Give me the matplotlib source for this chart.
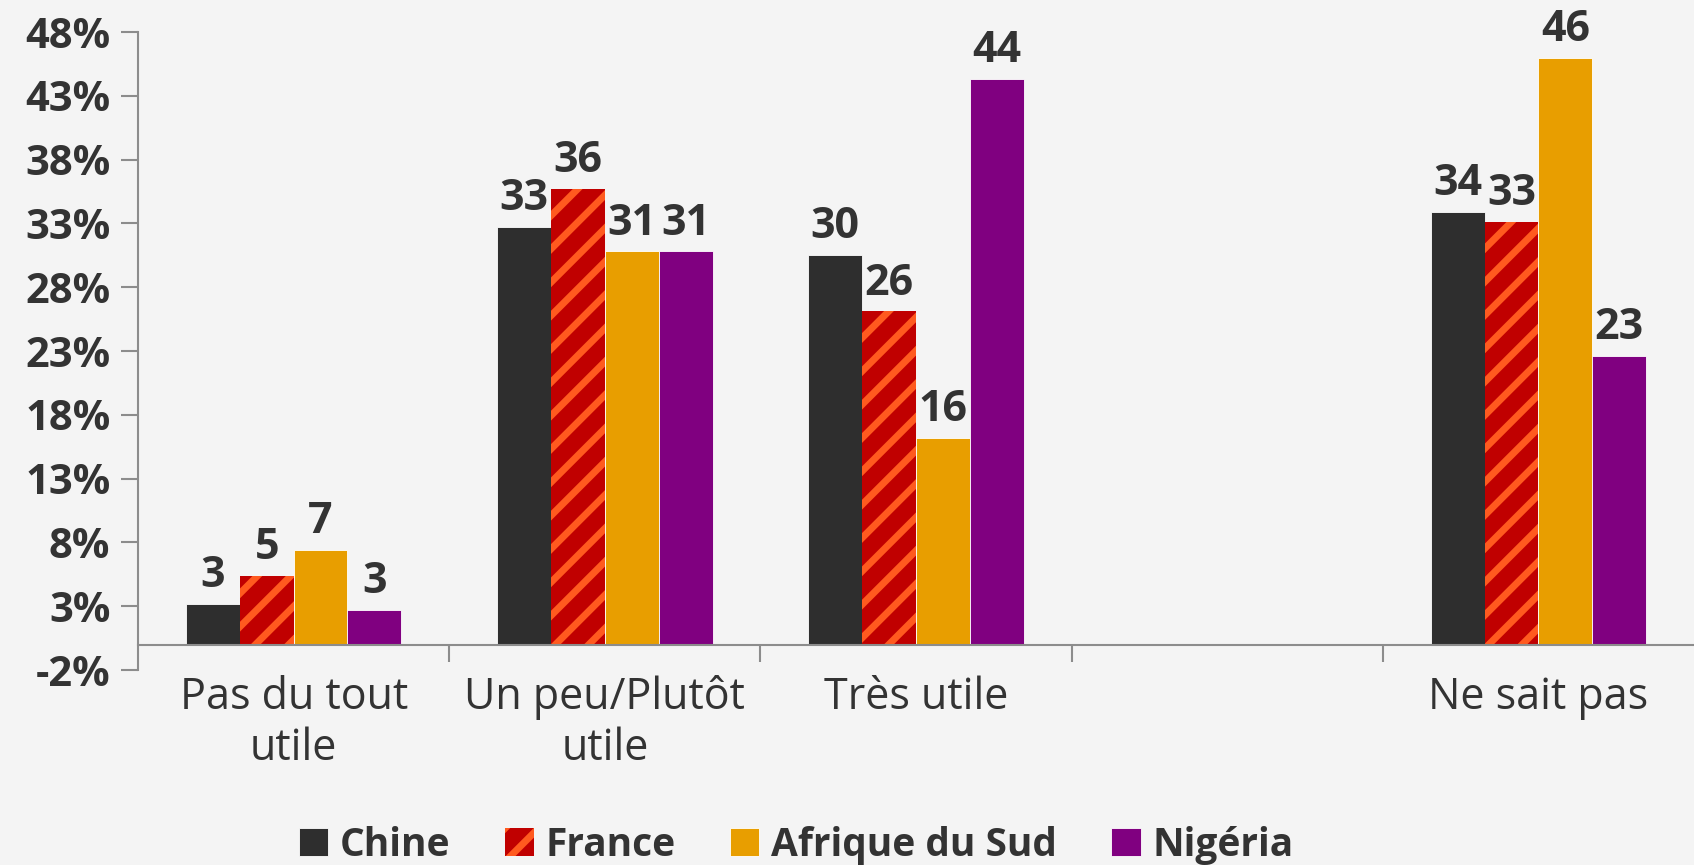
import numpy as np
import matplotlib.pyplot as plt

plt.rcParams['font.family'] = ['Open Sans', 'DejaVu Sans']
plt.rcParams['hatch.linewidth'] = 5

categories = ['Pas du tout\nutile', 'Un peu/Plutôt\nutile', 'Très utile', '', 'Ne sait pas']
chine = [3.2, 32.7, 30.5, np.nan, 33.9]
france = [5.4, 35.7, 26.1, np.nan, 33.1]
afrique_sud = [7.4, 30.8, 16.2, np.nan, 46.0]
nigeria = [2.7, 30.8, 44.3, np.nan, 22.6]
series_names = ['Chine', 'France', 'Afrique du Sud', 'Nigéria']

bg = '#f4f4f4'
text_col = '#333333'
axis_col = '#8c8c8c'

fig = plt.figure(figsize=(16.94, 8.65), dpi=100, facecolor=bg)
ax = fig.add_axes([0.0815, 0.2254, 0.9185, 0.7376])
ax.set_facecolor(bg)

x = np.arange(len(categories))
w = 0.173
styles = [
    dict(color='#2e2e2e', edgecolor='white', linewidth=0.6),
    dict(color='#c00000', edgecolor='#ff5a1f', linewidth=0, hatch='/'),
    dict(color='#e89e00', edgecolor='white', linewidth=0.6),
    dict(color='#800080', edgecolor='white', linewidth=0.6),
]
all_series = [chine, france, afrique_sud, nigeria]
for i, (vals, name, st) in enumerate(zip(all_series, series_names, styles)):
    bars = ax.bar(x + (i - 1.5) * w, vals, w, label=name, **st)
    labels = ['' if np.isnan(v) else f'{v:.0f}' for v in vals]
    ax.bar_label(bars, labels=labels, padding=5, fontsize=31, fontweight='bold', color=text_col)

ax.set_xlim(-0.5, 4.5)
ax.set_ylim(-2, 48)
yt = np.arange(-2, 49, 5)
ax.set_yticks(yt)
ax.set_yticklabels([f'{v}%' for v in yt], fontsize=30, fontweight='bold', color=text_col)

ax.set_xticks(np.arange(0.5, 4.5, 1))
ax.set_xticklabels([])
ax.set_xticks(x, minor=True)
ax.set_xticklabels(categories, minor=True)
for t in ax.get_xticklabels(minor=True):
    t.set_linespacing(1.35)
ax.tick_params(axis='x', which='minor', length=0, pad=22, labelsize=31, labelcolor=text_col)
ax.tick_params(axis='x', which='major', length=12, width=1.5, color=axis_col, direction='out')
ax.tick_params(axis='y', length=12, width=1.5, color=axis_col, pad=8)

for s in ['top', 'right']:
    ax.spines[s].set_visible(False)
ax.spines['bottom'].set_position(('data', 0))
ax.spines['bottom'].set_color(axis_col)
ax.spines['bottom'].set_linewidth(1.5)
ax.spines['left'].set_color(axis_col)
ax.spines['left'].set_linewidth(1.5)

leg = fig.legend(loc='lower center', bbox_to_anchor=(0.47, -0.04), ncol=4, frameon=False,
                 handlelength=0.75, handleheight=0.75, handletextpad=0.3, columnspacing=1.4,
                 prop={'size': 28, 'weight': 'bold'})
for t in leg.get_texts():
    t.set_color(text_col)

fig.savefig('out.png', dpi=100, facecolor=bg)
